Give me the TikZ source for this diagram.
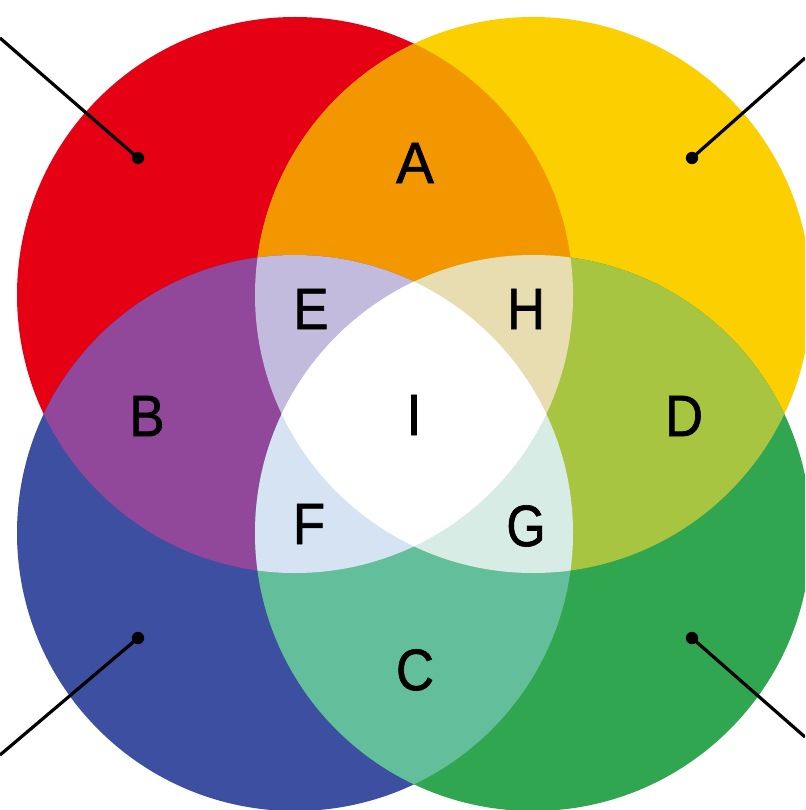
\documentclass[tikz,border=0pt]{standalone}
\usepackage{fontspec}
\setmainfont{Liberation Sans}
\newfontfamily\lblfont{Liberation Sans}[FakeBold=1.2]
\definecolor{cRed}{HTML}{E50013}
\definecolor{cYellow}{HTML}{FCD000}
\definecolor{cBlue}{HTML}{3D4FA0}
\definecolor{cGreen}{HTML}{2FA64F}
\definecolor{cA}{HTML}{F39700}
\definecolor{cB}{HTML}{91479A}
\definecolor{cC}{HTML}{63BF9B}
\definecolor{cD}{HTML}{A7C540}
\definecolor{cE}{HTML}{C3BBDD}
\definecolor{cH}{HTML}{E8DDB0}
\definecolor{cF}{HTML}{D5E3F3}
\definecolor{cG}{HTML}{D8ECE6}
\def\cRedP{(295,295) circle[radius=278]}
\def\cYelP{(533,295) circle[radius=278]}
\def\cBluP{(295,533) circle[radius=278]}
\def\cGrnP{(533,533) circle[radius=278]}
\newcommand{\lett}[2][0.9]{\scalebox{#1}[1]{#2}}
\begin{document}
\begin{tikzpicture}[x=1pt,y=-1pt,
  lbl/.style={font=\lblfont\fontsize{58.5}{58.5}\selectfont, inner sep=0pt, anchor=center, text=black},
  leader/.style={draw=black, line width=3.2pt},
  dotmark/.style={fill=black}]
\clip (0,0) rectangle (805,810);
\fill[white] (0,0) rectangle (805,810);
% base circles
\fill[cRed] \cRedP;
\fill[cYellow] \cYelP;
\fill[cBlue] \cBluP;
\fill[cGreen] \cGrnP;
% pair intersections
\begin{scope}\clip \cRedP; \fill[cA] \cYelP; \end{scope}
\begin{scope}\clip \cRedP; \fill[cB] \cBluP; \end{scope}
\begin{scope}\clip \cBluP; \fill[cC] \cGrnP; \end{scope}
\begin{scope}\clip \cYelP; \fill[cD] \cGrnP; \end{scope}
% triple intersections
\begin{scope}\clip \cRedP; \clip \cYelP; \fill[cE] \cBluP; \end{scope}
\begin{scope}\clip \cRedP; \clip \cYelP; \fill[cH] \cGrnP; \end{scope}
\begin{scope}\clip \cRedP; \clip \cBluP; \fill[cF] \cGrnP; \end{scope}
\begin{scope}\clip \cYelP; \clip \cBluP; \fill[cG] \cGrnP; \end{scope}
% all four
\begin{scope}\clip \cRedP; \clip \cYelP; \clip \cBluP; \fill[white] \cGrnP; \end{scope}
% labels
\node[lbl] (lA) at (415,163) {\lett[0.97]{A}};
\node[lbl] (lB) at (147,416) {\lett{B}};
\node[lbl] (lC) at (415,670) {\lett{C}};
\node[lbl] (lD) at (684,416) {\lett{D}};
\node[lbl] (lE) at (311,309) {\lett{E}};
\node[lbl] (lH) at (526,309) {\lett{H}};
\node[lbl] (lF) at (309,524) {\lett{F}};
\node[lbl] (lG) at (526,526) {\lett[0.86]{G}};
\node[lbl] (lI) at (414,415) {\lett{I}};
% leader lines
\coordinate (dTL) at (138,158);
\coordinate (dTR) at (692,158);
\coordinate (dBL) at (138,638);
\coordinate (dBR) at (692,638);
\coordinate (eTL) at (0,38);
\coordinate (eTR) at (805,58);
\coordinate (eBL) at (0,755);
\coordinate (eBR) at (805,737);
\draw[leader] (dTL) -- (eTL);
\draw[leader] (dTR) -- (eTR);
\draw[leader] (dBL) -- (eBL);
\draw[leader] (dBR) -- (eBR);
\fill[dotmark] (dTL) circle[radius=6.2];
\fill[dotmark] (dTR) circle[radius=6.2];
\fill[dotmark] (dBL) circle[radius=6.2];
\fill[dotmark] (dBR) circle[radius=6.2];
\end{tikzpicture}
\end{document}
